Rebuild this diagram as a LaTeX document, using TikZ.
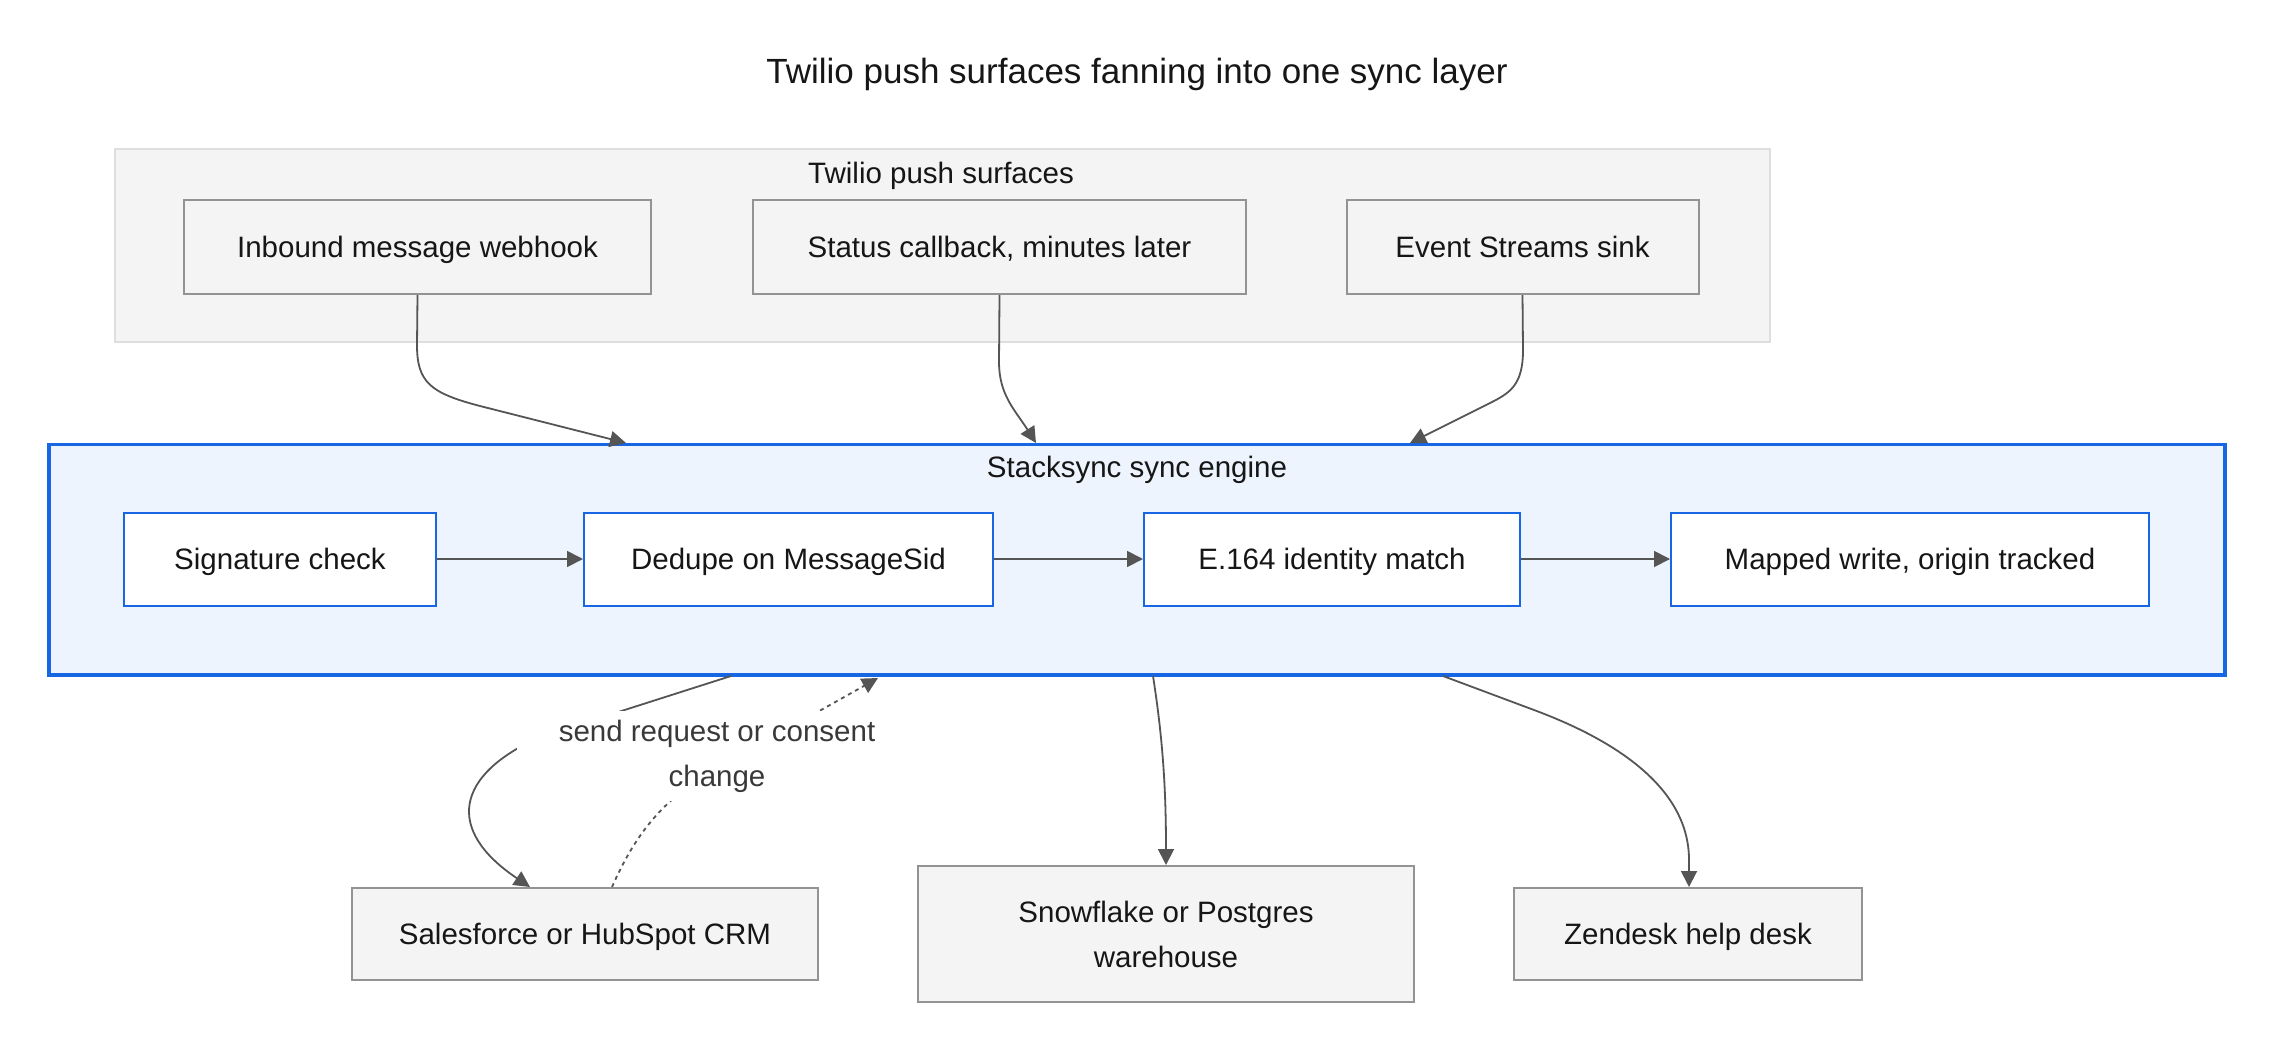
\documentclass[tikz,border=0pt]{standalone}
\usepackage{fontspec}
\setmainfont{Liberation Sans}
\usetikzlibrary{arrows.meta}
\definecolor{txt}{HTML}{161616}
\definecolor{lbl}{HTML}{393939}
\definecolor{grpfill}{HTML}{F4F4F4}
\definecolor{grpline}{HTML}{DEDEDE}
\definecolor{nodefill}{HTML}{F4F4F4}
\definecolor{nodeline}{HTML}{939393}
\definecolor{engfill}{HTML}{EDF4FE}
\definecolor{engline}{HTML}{1766E3}
\definecolor{edge}{HTML}{555555}
\begin{document}
\begin{tikzpicture}[x=1pt,y=-1pt,
  every node/.style={text=txt, font=\fontsize{29.5}{45}\selectfont},
  oneline/.style={text height=27pt, text depth=6pt},
  graybox/.style={draw=nodeline, fill=nodefill, line width=2pt, inner sep=0pt, align=center},
  bluebox/.style={draw=engline, fill=white, line width=2pt, inner sep=0pt, minimum height=93pt, oneline},
  conn/.style={draw=edge, line width=1.8pt, -{Triangle[length=16pt,width=16pt]}},
  dotconn/.style={conn, dash pattern=on 4pt off 4pt}]
\useasboundingbox (0,0) rectangle (2274,1052);
\fill[white] (0,0) rectangle (2274,1052);

% title
\node (title) at (1137,74) {\fontsize{35}{42}\selectfont Twilio push surfaces fanning into one sync layer};

% group
\draw[draw=grpline, fill=grpfill, line width=1.5pt] (115,149) rectangle (1770,342);
\node (grplabel) at (941,176) {Twilio push surfaces};
\node[graybox, oneline, minimum width=467pt, minimum height=94pt] (A) at (417.5,247) {Inbound message webhook};
\node[graybox, oneline, minimum width=493pt, minimum height=94pt] (B) at (999.5,247) {Status callback, minutes later};
\node[graybox, oneline, minimum width=352pt, minimum height=94pt] (C) at (1522.5,247) {Event Streams sink};

% engine
\draw[draw=engline, fill=engfill, line width=3.5pt] (49,444.5) rectangle (2225,675);
\node (englabel) at (1137,470) {Stacksync sync engine};
\node[bluebox, minimum width=312pt] (sig) at (280,559) {Signature check};
\node[bluebox, minimum width=409pt] (dedupe) at (788.5,559) {Dedupe on MessageSid};
\node[bluebox, minimum width=376pt] (e164) at (1332,559) {E.164 identity match};
\node[bluebox, minimum width=478pt] (mapped) at (1910,559) {Mapped write, origin tracked};

% bottom
\node[graybox, oneline, minimum width=466pt, minimum height=92pt] (crm) at (585,934) {Salesforce or HubSpot CRM};
\node[graybox, minimum width=496pt, minimum height=136pt] (wh) at (1166,934) {Snowflake or Postgres\\warehouse};
\node[graybox, oneline, minimum width=348pt, minimum height=92pt] (zd) at (1688,934) {Zendesk help desk};

% engine boundary points
\coordinate (inA) at (626,443);
\coordinate (inB) at (1036,443);
\coordinate (inC) at (1410,443);
\coordinate (outCRM) at (731,676);
\coordinate (inCRM) at (878,678);
\coordinate (outWH) at (1153,676);
\coordinate (outZD) at (1443,676);

% top connectors
\draw[conn] (A.south) -- (417,345) .. controls (417,382) and (430,393) .. (480,406) -- (inA);
\draw[conn] (B.south) -- (999,362) .. controls (999,395) and (1015,410) .. (inB);
\draw[conn] (C.south) -- (1523,350) .. controls (1523,385) and (1510,393) .. (1490,403) -- (inC);

% inner connectors
\draw[conn] (sig) -- (dedupe);
\draw[conn] (dedupe) -- (e164);
\draw[conn] (e164) -- (mapped);

% bottom connectors
\draw[conn] (outCRM) -- (540,737) .. controls (455,775) and (445,830) .. ([xshift=-55pt]crm.north);
\draw[dotconn] ([xshift=27pt]crm.north) .. controls (635,835) and (660,805) .. (700,778) -- (inCRM);
\draw[conn] (outWH) .. controls (1163,740) and (1166,790) .. (wh.north);
\draw[conn] (outZD) -- (1534,710) .. controls (1620,742) and (1689,790) .. (1689,860) -- ([xshift=1pt]zd.north);

% edge label
\node[fill=white, inner sep=0pt, minimum width=400pt, minimum height=90pt, align=center, text=lbl] (elabel) at (717,756) {send request or consent\\change};
\end{tikzpicture}
\end{document}
